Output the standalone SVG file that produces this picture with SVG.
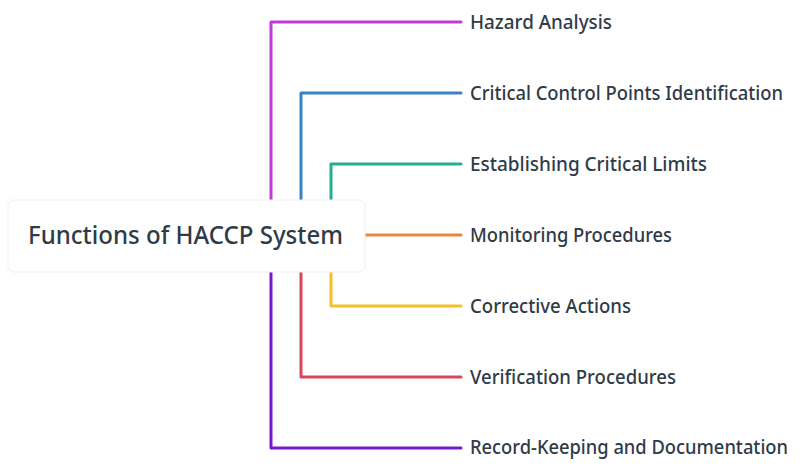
<svg xmlns="http://www.w3.org/2000/svg" width="802" height="466" viewBox="0 0 802 466">
<style>
.c{fill:none;stroke-width:3;stroke-linecap:round;stroke-linejoin:round}
.lbl{font-family:"Noto Sans","DejaVu Sans",sans-serif;font-size:19.5px;font-weight:500;fill:#2f3b47}
.title{font-family:"Noto Sans","DejaVu Sans",sans-serif;font-size:26px;font-weight:500;fill:#2f3b47}
</style>
<rect width="802" height="466" fill="#ffffff"/>
<g id="connectors">
<path class="c" stroke="#c13ad8" d="M271,200 V22 H461"/>
<path class="c" stroke="#3b82c4" d="M301,200 V93 H461"/>
<path class="c" stroke="#26ae98" d="M331,200 V164 H461"/>
<path class="c" stroke="#e8873a" d="M366,235 H461"/>
<path class="c" stroke="#f4c02c" d="M331,272 V306 H461"/>
<path class="c" stroke="#d9455b" d="M301,272 V377 H461"/>
<path class="c" stroke="#7a16cf" d="M271,272 V448 H461"/>
</g>
<g id="root">
<rect x="8" y="200" width="357" height="72" rx="6" fill="#ffffff" stroke="#f0f0f0" stroke-width="1"/>
<text class="title" x="28" y="244" textLength="315" lengthAdjust="spacingAndGlyphs">Functions of HACCP System</text>
</g>
<g id="n1"><text class="lbl" x="470" y="29" textLength="142" lengthAdjust="spacingAndGlyphs">Hazard Analysis</text></g>
<g id="n2"><text class="lbl" x="470" y="100" textLength="313" lengthAdjust="spacingAndGlyphs">Critical Control Points Identification</text></g>
<g id="n3"><text class="lbl" x="470" y="171" textLength="237" lengthAdjust="spacingAndGlyphs">Establishing Critical Limits</text></g>
<g id="n4"><text class="lbl" x="470" y="242" textLength="202" lengthAdjust="spacingAndGlyphs">Monitoring Procedures</text></g>
<g id="n5"><text class="lbl" x="470" y="313" textLength="161" lengthAdjust="spacingAndGlyphs">Corrective Actions</text></g>
<g id="n6"><text class="lbl" x="470" y="384" textLength="206" lengthAdjust="spacingAndGlyphs">Verification Procedures</text></g>
<g id="n7"><text class="lbl" x="470" y="454" textLength="318" lengthAdjust="spacingAndGlyphs">Record-Keeping and Documentation</text></g>
</svg>
